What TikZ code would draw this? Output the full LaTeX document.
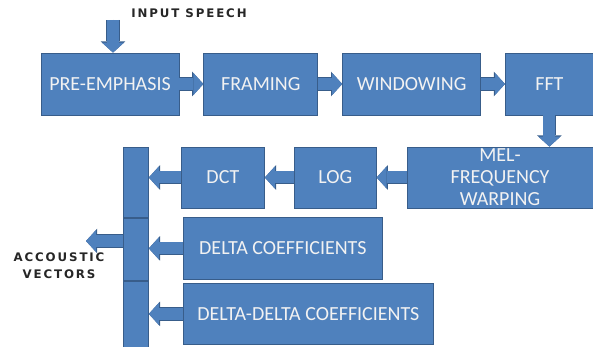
\documentclass[tikz,border=0pt]{standalone}
\usepackage{fontspec}
\setmainfont{Carlito}
\newfontfamily\spacedfont[LetterSpace=16]{DejaVu Sans}
\usepackage{tikz}
\usetikzlibrary{positioning}
\usetikzlibrary{arrows.meta}
\definecolor{boxfill}{HTML}{4F81BD}
\definecolor{boxedge}{HTML}{385D8A}
\definecolor{boxtext}{HTML}{F2F2F2}

\begin{document}
\begin{tikzpicture}[x=1pt,y=-1pt,
    stage/.style={rectangle,draw=boxedge,fill=boxfill,text=boxtext,line width=0.8pt,
      font=\fontsize{20}{22}\selectfont,minimum height=62pt,inner sep=0pt,align=center},
    barpart/.style={rectangle,draw=boxedge,fill=boxfill,line width=0.8pt,minimum width=25pt,inner sep=0pt},
    blockarrow/.style={draw=boxfill,fill=boxfill,line width=12pt,
      -{Triangle[length=10pt,width=22pt,line width=0pt]},
      preaction={draw=boxedge,fill=boxedge,line width=13.4pt,-{Triangle[length=11.2pt,width=24.6pt,line width=0pt]}}},
    caption/.style={font=\spacedfont\bfseries\fontsize{11.8}{17}\selectfont,text=black!85,align=center}]
  \useasboundingbox (0,0) rectangle (593,347);

  % top row
  \node[stage,minimum width=138pt] (pre) at (110,84) {PRE-EMPHASIS};
  \node[stage,minimum width=114pt,right=24pt of pre] (fram) {FRAMING};
  \node[stage,minimum width=138pt,right=24pt of fram] (wind) {WINDOWING};
  \node[stage,minimum width=88pt,right=24pt of wind] (fft) {FFT};

  % second row
  \node[stage,minimum width=186pt,minimum height=61pt] (mel) at (500,177.5) {MEL-\\FREQUENCY\\WARPING};
  \node[stage,minimum width=82pt,minimum height=61pt,left=30pt of mel] (log) {LOG};
  \node[stage,minimum width=83pt,minimum height=61pt,left=29pt of log] (dct) {DCT};
  \node[stage,minimum width=199pt,anchor=north west] (delta) at (183,217) {DELTA COEFFICIENTS};
  \node[stage,minimum width=250pt,minimum height=61pt,anchor=north west] (ddelta) at (183,283) {DELTA-DELTA COEFFICIENTS};

  % collecting bar
  \node[barpart,minimum height=70pt,anchor=north west] (bara) at (123,147) {};
  \node[barpart,minimum height=62pt,anchor=north] (barb) at (bara.south) {};
  \node[barpart,minimum height=68pt,anchor=north] (barc) at (barb.south) {};

  \node[caption] (insp) at (189,13) {INPUT SPEECH};
  \node[caption] (acvec) at (59,266) {ACCOUSTIC\\VECTORS};
  \coordinate (in) at (113,20);
  \coordinate (out) at (86,241);

  \draw[blockarrow] (in) -- (in |- pre.north);
  \draw[blockarrow] (pre) -- (fram);
  \draw[blockarrow] (fram) -- (wind);
  \draw[blockarrow] (wind) -- (fft);
  \draw[blockarrow] (fft) -- (mel.north -| fft.south);
  \draw[blockarrow] (mel) -- (log);
  \draw[blockarrow] (log) -- (dct);
  \draw[blockarrow] (dct) -- (dct.west -| bara.east);
  \draw[blockarrow] (delta.west) -- (delta.west -| barb.east);
  \draw[blockarrow] (ddelta.west) -- (ddelta.west -| barc.east);
  \draw[blockarrow] (out -| barb.west) -- (out);
\end{tikzpicture}
\end{document}
